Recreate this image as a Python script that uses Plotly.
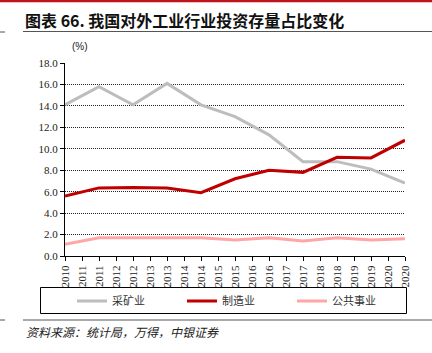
import plotly.graph_objects as go

# ---- data ----
tick_labels = ["2010", "2011", "2011", "2012", "2012", "2013", "2013", "2014", "2014", "2015",
               "2015", "2016", "2016", "2017", "2017", "2018", "2018", "2019", "2019", "2020", "2020"]
years = [2010, 2011, 2012, 2013, 2014, 2015, 2016, 2017, 2018, 2019, 2020]
mining = [14.1, 15.8, 14.1, 16.1, 14.1, 13.0, 11.3, 8.8, 8.8, 8.1, 6.8]
manufacturing = [5.6, 6.35, 6.4, 6.35, 5.9, 7.2, 8.0, 7.8, 9.2, 9.15, 10.8]
utilities = [1.1, 1.7, 1.7, 1.7, 1.7, 1.5, 1.7, 1.4, 1.7, 1.5, 1.6]
series_names = ["采矿业", "制造业", "公共事业"]
colors = ["#BDBDBD", "#C00000", "#FFA7A7"]

# map years onto the half-year tick grid (data at every other tick)
xpos = [(y - years[0]) * 2 for y in years]

W, H = 432, 353
L, R, T, B = 65, 27, 63, 97
PW, PH = W - L - R, H - T - B


def px_x(px):
    return (px - L) / PW


def px_y(py):
    return (H - B - py) / PH


fig = go.Figure()
for name, vals, c in zip(series_names, [mining, manufacturing, utilities], colors):
    fig.add_trace(go.Scatter(x=xpos, y=vals, name=name, mode="lines",
                             line=dict(color=c, width=3)))

serif = "Liberation Serif, Times New Roman, serif"
cjk = "Noto Sans CJK SC, sans-serif"

fig.update_layout(
    width=W, height=H,
    margin=dict(l=L, r=R, t=T, b=B, pad=0),
    paper_bgcolor="white", plot_bgcolor="white",
    showlegend=True,
    legend=dict(orientation="h", x=px_x(72), xanchor="left", y=px_y(301), yanchor="middle",
                entrywidth=65, entrywidthmode="pixels",
                font=dict(family=cjk, size=11, color="#333333"),
                bgcolor="rgba(0,0,0,0)", borderwidth=0, itemwidth=30),
    xaxis=dict(range=[0, 20], tickmode="array", tickvals=list(range(len(tick_labels))),
               ticktext=tick_labels, tickangle=-90, showgrid=False,
               showline=True, linecolor="black", linewidth=1,
               ticks="outside", ticklen=4, tickcolor="black",
               tickfont=dict(family=serif, size=11, color="#222222"), zeroline=False),
    yaxis=dict(range=[0, 18], dtick=2, tickformat=".1f", showgrid=True,
               gridcolor="#222222", griddash="1px,1px", gridwidth=1,
               showline=True, linecolor="black", linewidth=1,
               ticks="outside", ticklen=4, tickcolor="black",
               tickfont=dict(family=serif, size=11, color="#222222"), zeroline=False),
)

shapes = [
    # top red bar
    dict(type="line", xref="paper", yref="paper", x0=px_x(0), x1=px_x(432), y0=px_y(1), y1=px_y(1),
         line=dict(color="#C0141C", width=2.5)),
    # title underline
    dict(type="line", xref="paper", yref="paper", x0=px_x(23), x1=px_x(432), y0=px_y(31.5), y1=px_y(31.5),
         line=dict(color="#555555", width=1)),
    dict(type="line", xref="paper", yref="paper", x0=px_x(0), x1=px_x(5), y0=px_y(32), y1=px_y(32),
         line=dict(color="#555555", width=1)),
    # bottom line
    dict(type="line", xref="paper", yref="paper", x0=px_x(23), x1=px_x(432), y0=px_y(320), y1=px_y(320),
         line=dict(color="#555555", width=1)),
    dict(type="line", xref="paper", yref="paper", x0=px_x(0), x1=px_x(5), y0=px_y(320), y1=px_y(320),
         line=dict(color="#555555", width=1)),
    # legend box
    dict(type="rect", xref="paper", yref="paper", x0=px_x(40.5), x1=px_x(406.5), y0=px_y(313.5), y1=px_y(287.5),
         line=dict(color="black", width=1), fillcolor="rgba(0,0,0,0)"),
]
fig.update_layout(shapes=shapes)

annotations = [
    dict(text="<b>图表 66. 我国对外工业行业投资存量占比变化</b>", xref="paper", yref="paper",
         x=px_x(23), y=px_y(20), xanchor="left", yanchor="middle", showarrow=False,
         font=dict(family=cjk, size=16, color="#111111")),
    dict(text="(%)", xref="paper", yref="paper", x=px_x(80), y=px_y(47), xanchor="center", yanchor="middle",
         showarrow=False, font=dict(family="Liberation Sans, Arial, sans-serif", size=10, color="#222222")),
    dict(text="<i>资料来源：统计局，万得，中银证券</i>", xref="paper", yref="paper",
         x=px_x(24), y=px_y(331), xanchor="left", yanchor="middle", showarrow=False,
         font=dict(family=cjk, size=12, color="#222222")),
]
fig.update_layout(annotations=annotations)

fig.write_html("out.html")
